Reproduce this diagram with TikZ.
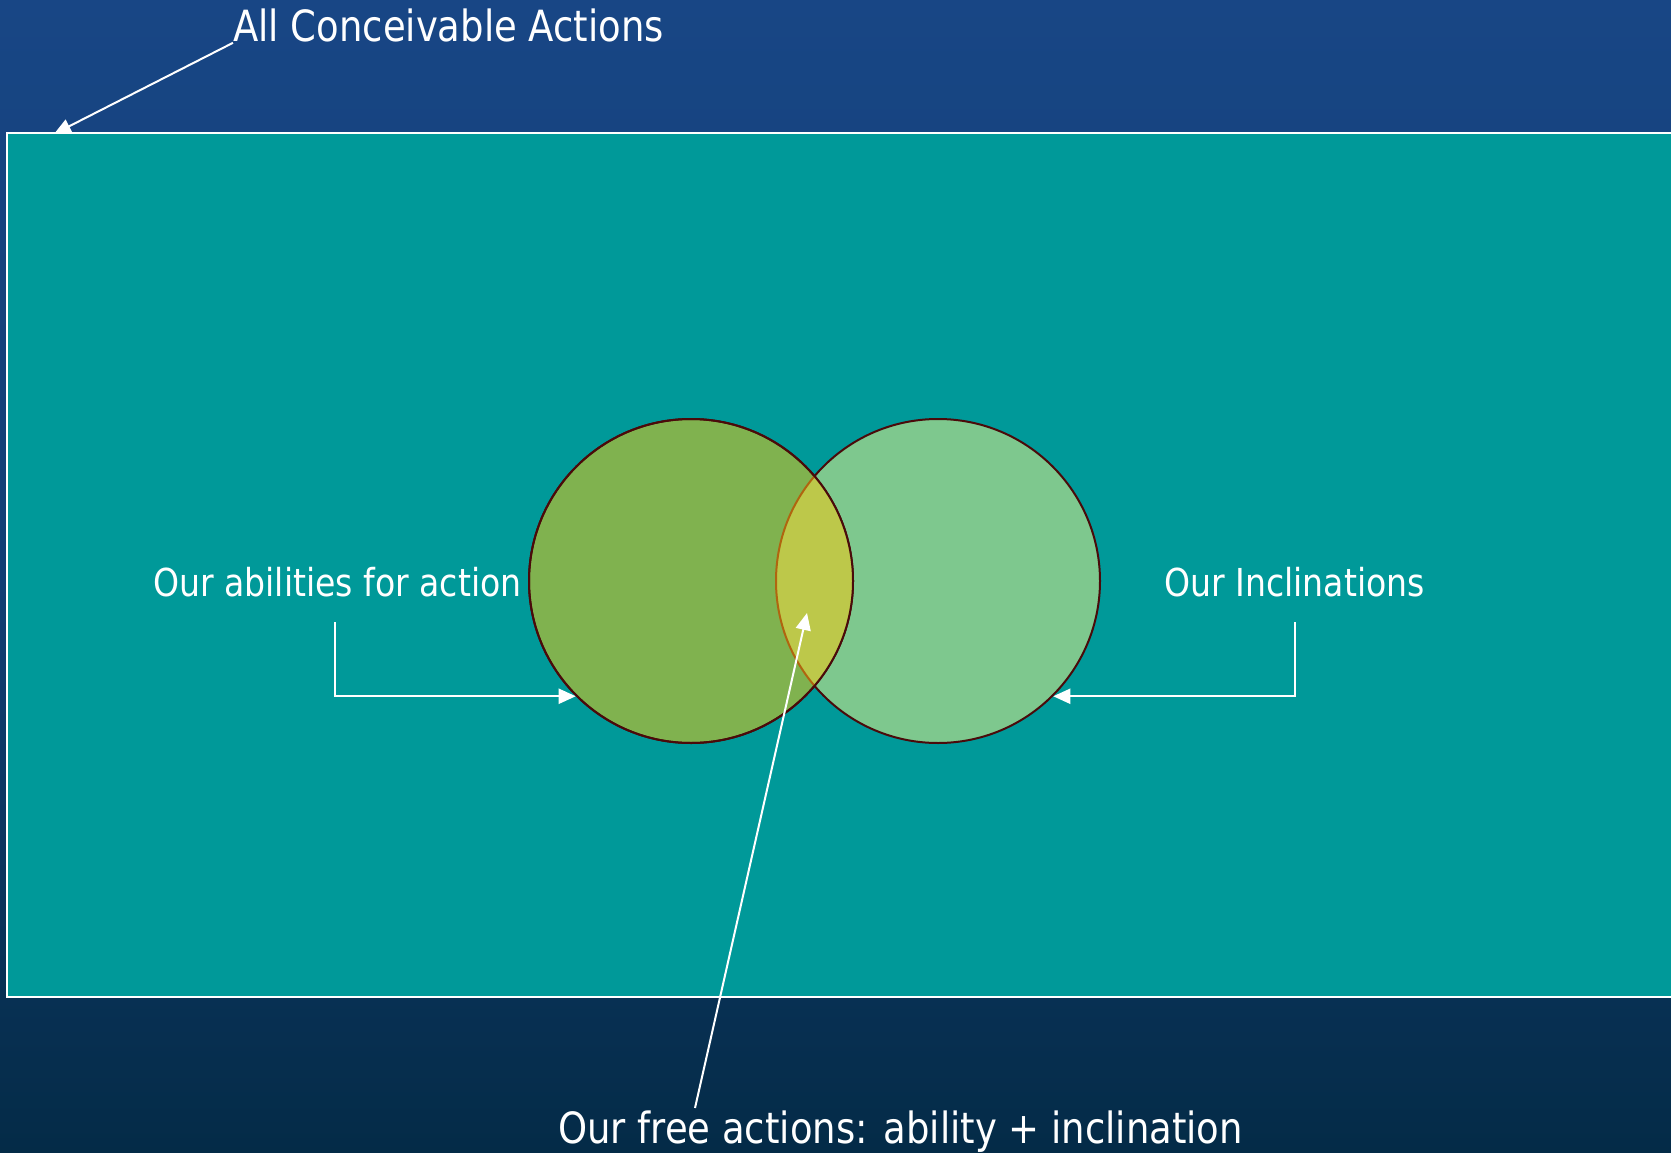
\documentclass[tikz,border=0pt]{standalone}
\usepackage{fontspec}
\setmainfont{DejaVu Sans}[FakeStretch=0.86]
\usetikzlibrary{arrows.meta}
\definecolor{bgtop}{HTML}{184685}
\definecolor{bgmid}{HTML}{123E74}
\definecolor{bgbot}{HTML}{042B47}
\definecolor{tealbox}{HTML}{009999}
\definecolor{leftc}{HTML}{80B24F}
\definecolor{rightc}{HTML}{7EC88E}
\definecolor{lensc}{HTML}{BDC84A}
\definecolor{ringc}{HTML}{4A0A0A}
\definecolor{lensring}{HTML}{B0650F}
\begin{document}
\begin{tikzpicture}[x=1pt,y=-1pt,
  lbl/.style={text=white,inner sep=0pt,anchor=base west},
  biglbl/.style={lbl,font=\fontsize{43}{50}\selectfont},
  midlbl/.style={lbl,font=\fontsize{38.5}{45}\selectfont},
  conn/.style={white,line width=2pt,-{Triangle[length=17pt,width=15pt]}},
  ring/.style={circle,minimum size=324pt,inner sep=0pt,draw=ringc,line width=2pt}]
\useasboundingbox (0,0) rectangle (1671,1153);
\shade[top color=bgtop,bottom color=bgbot,middle color=bgmid] (0,0) rectangle (1671,1153);

\node[biglbl] (top) at (233,42) {All Conceivable Actions};
\coordinate (boxtop) at (54,134);
\draw[conn] (top.south west) -- (boxtop);

\draw[white,line width=2pt,fill=tealbox] (7,133) rectangle (1690,997);

\node[ring,fill=rightc] (R) at (938,581) {};
\node[ring,fill=leftc] (L) at (691,581) {};
\begin{scope}
  \clip (691,581) circle (162);
  \fill[lensc] (938,581) circle (162);
  \draw[lensring,line width=2pt] (938,581) circle (162);
\end{scope}
\draw[ringc,line width=2pt] (L.center) circle (162);

\node[midlbl] (abil) at (153,596) {Our abilities for action};
\node[midlbl] (incl) at (1164,596) {Our Inclinations};
\node[biglbl] (free) at (558,1143) {Our free actions: ability + inclination};

\coordinate (abstart) at (335,622);
\coordinate (instart) at (1295,622);
\coordinate (frstart) at (695,1108);
\coordinate (lens) at (807,613);

\draw[conn] (abstart) |- (L.225);
\draw[conn] (instart) |- (R.-45);
\draw[conn] (frstart) -- (lens);
\end{tikzpicture}
\end{document}
